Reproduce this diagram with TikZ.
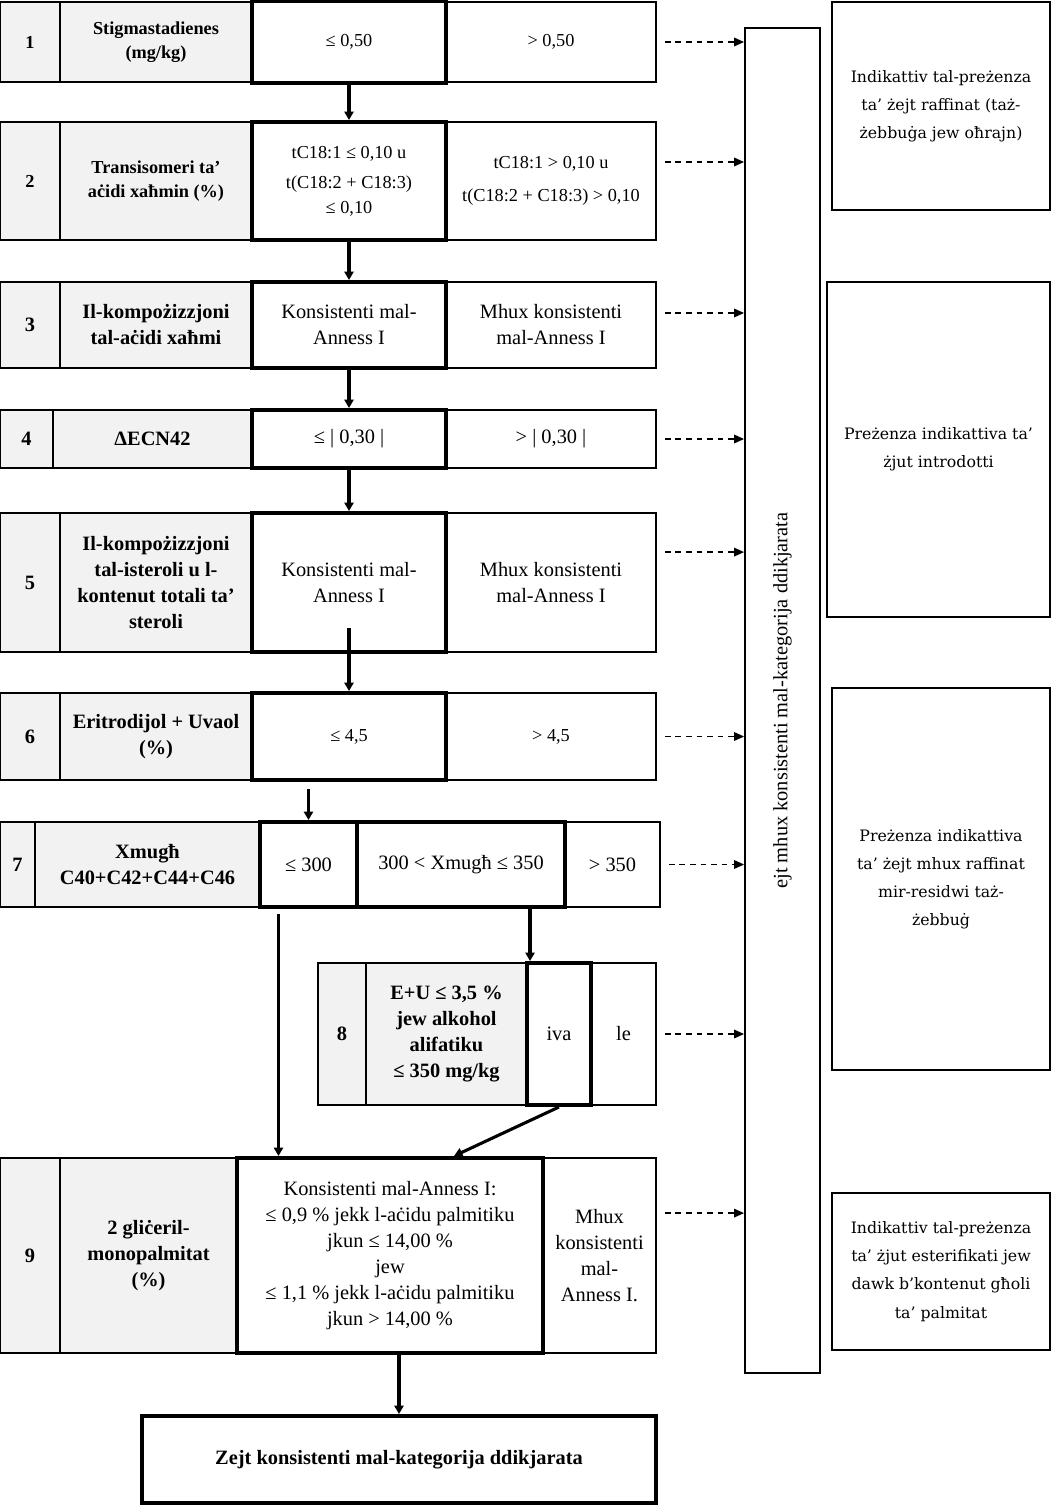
\documentclass[tikz,border=0pt]{standalone}
\usepackage{fontspec}
\setmainfont{Liberation Serif}
\newfontfamily\notefont{DejaVu Serif}
\usetikzlibrary{arrows.meta,positioning,calc}
\definecolor{keygray}{HTML}{F2F2F2}
\newcommand\cellfont{\fontsize{14.5}{18.5}\selectfont}
\newcommand\smallcellfont{\fontsize{13}{17.5}\selectfont}

\begin{document}
\begin{tikzpicture}[x=0.025cm, y=-0.025cm,
  cell/.style={draw, line width=1.3pt, align=center, inner sep=2pt, font=\cellfont},
  numcell/.style={cell, fill=keygray, font=\cellfont\bfseries},
  keycell/.style={cell, fill=keygray, font=\cellfont\bfseries},
  pass/.style={cell, line width=2.8pt},
  small/.style={font=\smallcellfont},
  smallkey/.style={font=\smallcellfont\bfseries},
  note/.style={draw, line width=1.3pt, align=center, font=\notefont\fontsize{11.2}{20}\selectfont},
  sidebox/.style={draw, line width=1.3pt},
  arr/.style={line width=2.2pt, -{Triangle[length=6pt, width=6.5pt]}},
  dasharr/.style={line width=1pt, dash pattern=on 4pt off 3.5pt, -{Triangle[length=7pt, width=6pt]}}
]
\useasboundingbox (0,0) rectangle (1053,1506);

% row 1
\node[numcell, smallkey, minimum width=1.5cm, minimum height=2cm] (n1) at (30,42) {1};
\node[keycell, smallkey, minimum width=4.8cm, minimum height=2cm] (k1) at (156,42) {Stigmastadienes\\(mg/kg)};
\node[cell, small, minimum width=5.25cm, minimum height=2cm] (b1) at (551,42) {> 0,50};
\node[pass, small, minimum width=4.85cm, minimum height=2.05cm] (a1) at (349,42) {≤ 0,50};

% row 2
\node[numcell, smallkey, minimum width=1.5cm, minimum height=2.95cm] (n2) at (30,181) {2};
\node[keycell, smallkey, minimum width=4.8cm, minimum height=2.95cm] (k2) at (156,181) {Transisomeri ta’\\aċidi xaħmin (\%)};
\node[cell, small, minimum width=5.25cm, minimum height=2.95cm] (b2) at (551,181) {tC18:1 > 0,10 u\\[6pt]t(C18:2 + C18:3) > 0,10};
\node[pass, small, minimum width=4.85cm, minimum height=2.95cm] (a2) at (349,181) {tC18:1 ≤ 0,10 u\\[4pt]t(C18:2 + C18:3)\\≤ 0,10};

% row 3
\node[numcell, minimum width=1.5cm, minimum height=2.15cm] (n3) at (30,325) {3};
\node[keycell, minimum width=4.8cm, minimum height=2.15cm] (k3) at (156,325) {Il-kompożizzjoni\\tal-aċidi xaħmi};
\node[cell, minimum width=5.25cm, minimum height=2.15cm] (b3) at (551,325) {Mhux konsistenti\\mal-Anness I};
\node[pass, minimum width=4.85cm, minimum height=2.15cm] (a3) at (349,325) {Konsistenti mal-\\Anness I};

% row 4
\node[numcell, minimum width=1.325cm, minimum height=1.45cm] (n4) at (26.5,439) {4};
\node[keycell, minimum width=4.975cm, minimum height=1.45cm] (k4) at (152.5,439) {ΔECN42};
\node[cell, minimum width=5.25cm, minimum height=1.45cm] (b4) at (551,439) {> | 0,30 |};
\node[pass, minimum width=4.85cm, minimum height=1.45cm] (a4) at (349,439) {≤ | 0,30 |};

% row 5
\node[numcell, minimum width=1.5cm, minimum height=3.475cm] (n5) at (30,582.5) {5};
\node[keycell, minimum width=4.8cm, minimum height=3.475cm] (k5) at (156,582.5) {Il-kompożizzjoni\\tal-isteroli u l-\\kontenut totali ta’\\steroli};
\node[cell, minimum width=5.25cm, minimum height=3.475cm] (b5) at (551,582.5) {Mhux konsistenti\\mal-Anness I};
\node[pass, minimum width=4.85cm, minimum height=3.475cm] (a5) at (349,582.5) {Konsistenti mal-\\Anness I};

% row 6
\node[numcell, minimum width=1.5cm, minimum height=2.175cm] (n6) at (30,736.5) {6};
\node[keycell, minimum width=4.8cm, minimum height=2.175cm] (k6) at (156,736.5) {Eritrodijol + Uvaol\\(\%)};
\node[cell, small, minimum width=5.25cm, minimum height=2.175cm] (b6) at (551,736.5) {> 4,5};
\node[pass, small, minimum width=4.85cm, minimum height=2.175cm] (a6) at (349,736.5) {≤ 4,5};

% row 7
\node[numcell, minimum width=0.875cm, minimum height=2.125cm] (n7) at (17.5,864.5) {7};
\node[keycell, minimum width=5.625cm, minimum height=2.125cm] (k7) at (147.5,864.5) {Xmugħ\\C40+C42+C44+C46};
\node[cell, minimum width=2.375cm, minimum height=2.125cm] (b7) at (612.5,864.5) {> 350};
\node[pass, minimum width=2.425cm, minimum height=2.125cm] (a7) at (308.5,864.5) {≤ 300};
\node[pass, minimum width=5.2cm, minimum height=2.125cm] (m7) at (461,864.5) {300 < Xmugħ ≤ 350};

% row 8
\node[numcell, minimum width=1.2cm, minimum height=3.55cm] (n8) at (342,1034) {8};
\node[keycell, minimum width=4.025cm, minimum height=3.55cm] (k8) at (446.5,1034) {E+U ≤ 3,5 \%\\jew alkohol\\alifatiku\\≤ 350 mg/kg};
\node[cell, minimum width=1.625cm, minimum height=3.55cm] (b8) at (623.5,1034) {le};
\node[pass, minimum width=1.6cm, minimum height=3.55cm] (a8) at (559,1034) {iva};

% row 9
\node[numcell, minimum width=1.5cm, minimum height=4.875cm] (n9) at (30,1255.5) {9};
\node[keycell, minimum width=4.425cm, minimum height=4.875cm] (k9) at (148.5,1255.5) {2 gliċeril-\\monopalmitat\\(\%)};
\node[cell, minimum width=2.825cm, minimum height=4.875cm] (b9) at (599.5,1255.5) {Mhux\\konsistenti\\mal-\\Anness I.};
\node[pass, minimum width=7.65cm, minimum height=4.875cm] (a9) at (390,1255.5) {Konsistenti mal-Anness I:\\≤ 0,9 \% jekk l-aċidu palmitiku\\jkun ≤ 14,00 \%\\jew\\≤ 1,1 \% jekk l-aċidu palmitiku\\jkun > 14,00 \%};

% outcome
\node[pass, font=\cellfont\bfseries, minimum width=12.85cm, minimum height=2.175cm] (fin) at (399,1459.5) {Zejt konsistenti mal-kategorija ddikjarata};

% side column and notes
\node[sidebox, minimum width=1.875cm, minimum height=33.625cm] (side) at (782.5,700.5) {};
\node[rotate=90, font=\fontsize{14.5}{16}\selectfont] (sidetext) at (side.center) {ejt mhux konsistenti mal-kategorija ddikjarata};

\node[note, minimum width=5.45cm, minimum height=5.2cm] (r1) at (941,106) {Indikattiv tal-preżenza\\ta’ żejt raffinat (taż-\\żebbuġa jew oħrajn)};
\node[note, minimum width=5.575cm, minimum height=8.375cm] (r2) at (938.5,449.5) {Preżenza indikattiva ta’\\żjut introdotti};
\node[note, minimum width=5.45cm, minimum height=9.55cm] (r3) at (941,879) {Preżenza indikattiva\\ta’ żejt mhux raffinat\\mir-residwi taż-\\żebbuġ};
\node[note, minimum width=5.45cm, minimum height=3.925cm] (r4) at (941,1271.5) {Indikattiv tal-preżenza\\ta’ żjut esterifikati jew\\dawk b’kontenut għoli\\ta’ palmitat};

% pass path
\draw[arr] (a1) -- (a2);
\draw[arr] (a2) -- (a3);
\draw[arr] (a3) -- (a4);
\draw[arr] (a4) -- (a5);
\draw[arr] ([yshift=0.65cm]a5.south) -- (a6.north);
\coordinate (from6) at ([yshift=-0.17cm]a6.south -| a7.north);
\draw[arr] (from6) -- (a7.north);
\coordinate (drop) at ([xshift=-0.75cm, yshift=-0.12cm]a7.south);
\draw[arr] (drop) -- (drop |- a9.north);
\coordinate (hit8) at ([xshift=0.125cm]a8.north west);
\draw[arr] (hit8 |- m7.south) -- (hit8);
\draw[arr] (a8.south) -- ([xshift=1.6cm]a9.north);
\draw[arr] (a9.south -| fin.north) -- (fin.north);

% fail paths
\coordinate (o1) at (b1.east);
\coordinate (o2) at ([yshift=0.475cm]b2.east);
\coordinate (o3) at ([yshift=0.3cm]b3.east);
\coordinate (o4) at (b4.east);
\coordinate (o5) at ([yshift=0.76cm]b5.east);
\coordinate (o6) at (b6.east);
\coordinate (o7) at (b7.east);
\coordinate (o8) at (b8.east);
\coordinate (o9) at ([yshift=1.06cm]b9.east);
\draw[dasharr] ([xshift=0.2cm]o1) -- (o1 -| side.west);
\draw[dasharr] ([xshift=0.2cm]o2) -- (o2 -| side.west);
\draw[dasharr] ([xshift=0.2cm]o3) -- (o3 -| side.west);
\draw[dasharr] ([xshift=0.2cm]o4) -- (o4 -| side.west);
\draw[dasharr] ([xshift=0.2cm]o5) -- (o5 -| side.west);
\draw[dasharr] ([xshift=0.2cm]o6) -- (o6 -| side.west);
\draw[dasharr] ([xshift=0.2cm]o7) -- (o7 -| side.west);
\draw[dasharr] ([xshift=0.2cm]o8) -- (o8 -| side.west);
\draw[dasharr] ([xshift=0.2cm]o9) -- (o9 -| side.west);

\end{tikzpicture}
\end{document}
